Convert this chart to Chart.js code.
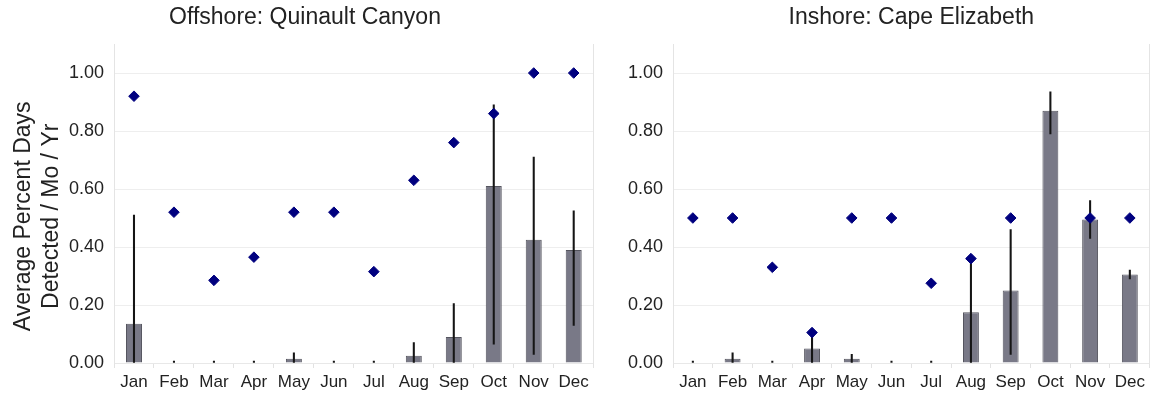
<!DOCTYPE html>
<html>
<head>
<meta charset="utf-8">
<script src="https://cdn.jsdelivr.net/npm/chart.js@4"></script>
<style>
  body { margin: 0; background: #fff; }
  .wrap { display: flex; width: 1156px; height: 407px; }
  #c1box { width: 600px; height: 407px; position: relative; }
  #c2box { width: 556px; height: 407px; position: relative; }
</style>
</head>
<body>
<div class="wrap">
  <div id="c1box"><canvas id="offshore"></canvas></div>
  <div id="c2box"><canvas id="inshore"></canvas></div>
</div>
<script>
const months = ["Jan", "Feb", "Mar", "Apr", "May", "Jun", "Jul", "Aug", "Sep", "Oct", "Nov", "Dec"];

// Offshore: Quinault Canyon
const offshoreBars = [0.135, 0, 0, 0, 0.015, 0, 0, 0.025, 0.09, 0.61, 0.425, 0.39];
const offshoreLow  = [0, 0, 0, 0, 0, 0, 0, 0, 0, 0.065, 0.03, 0.13];
const offshoreHigh = [0.51, 0.007, 0.007, 0.007, 0.035, 0.007, 0.007, 0.07, 0.205, 0.89, 0.71, 0.525];
const offshoreDots = [0.92, 0.52, 0.285, 0.365, 0.52, 0.52, 0.315, 0.63, 0.76, 0.86, 1.0, 1.0];

// Inshore: Cape Elizabeth
const inshoreBars = [0, 0.015, 0, 0.05, 0.015, 0, 0, 0.175, 0.25, 0.87, 0.495, 0.305];
const inshoreLow  = [0, 0, 0, 0, 0, 0, 0, 0, 0.03, 0.79, 0.43, 0.29];
const inshoreHigh = [0.007, 0.035, 0.007, 0.1, 0.03, 0.007, 0.007, 0.36, 0.46, 0.935, 0.56, 0.32];
const inshoreDots = [0.5, 0.5, 0.33, 0.105, 0.5, 0.5, 0.275, 0.36, 0.5, null, 0.5, 0.5];

const yTicks = [0, 0.2, 0.4, 0.6, 0.8, 1.0];

const FONT = "'Liberation Sans', Arial, sans-serif";
Chart.defaults.font.family = FONT;
Chart.defaults.color = "#222";

// o: padLeft, yWidth = width of left axis box, rWidth = width of right edge box
function makeChart(id, title, bars, low, high, dots, o) {
  return new Chart(document.getElementById(id), {
    type: "bar",
    data: {
      labels: months,
      datasets: [
        {
          type: "scatter",
          data: dots,
          pointStyle: "rectRot",
          pointRadius: 5.3,
          backgroundColor: "#00007f",
          borderColor: "#00007f",
          borderWidth: 1,
          order: 0
        },
        {
          data: low.map((l, i) => [l, high[i]]),
          backgroundColor: "#151515",
          barThickness: 1.4,
          grouped: false,
          order: 1
        },
        {
          data: bars,
          backgroundColor: "#797987",
          borderColor: "#55555f",
          borderWidth: 1,
          barPercentage: 0.4,
          categoryPercentage: 1,
          grouped: false,
          order: 2
        }
      ]
    },
    options: {
      responsive: true,
      maintainAspectRatio: false,
      animation: false,
      layout: { padding: { left: o.padLeft, right: 0, top: 0, bottom: 0 } },
      plugins: {
        legend: { display: false },
        tooltip: { enabled: false },
        title: {
          display: true,
          text: title,
          fullSize: o.titleFull,
          font: { size: 23, weight: "normal", family: FONT },
          color: "#222",
          padding: { top: 4, bottom: 12.4 }
        }
      },
      scales: {
        x: {
          type: "category",
          offset: true,
          afterFit: (s) => { s.height = 44; },
          grid: { display: true, drawOnChartArea: false, offset: true, tickLength: 5, color: "#e2e2e2" },
          border: { display: true, color: "#e8e8e8" },
          ticks: { font: { size: 17 }, color: "#222", padding: 4 }
        },
        y: {
          min: 0,
          max: 1.1,
          afterFit: (s) => { s.width = o.yWidth; },
          afterBuildTicks: (axis) => { axis.ticks = yTicks.map(v => ({ value: v })); },
          grid: { color: "#eeeeee", drawTicks: false },
          border: { display: true, color: "#e4e4e4" },
          ticks: {
            font: { size: 18 },
            color: "#222",
            padding: 10,
            callback: (v) => Number(v).toFixed(2)
          },
          title: {
            display: o.yTitle,
            // trailing spaces nudge the rotated title a bit lower, like the original
            text: ["Average Percent Days    ", "Detected / Mo / Yr    "],
            font: { size: 23 },
            color: "#222",
            padding: { top: 0, bottom: 0 }
          }
        },
        yr: {
          position: "right",
          min: 0,
          max: 1.1,
          afterFit: (s) => { s.width = o.rWidth; },
          grid: { display: false },
          border: { display: true, color: "#e4e4e4" },
          ticks: { display: false }
        }
      }
    }
  });
}

makeChart("offshore", "Offshore: Quinault Canyon", offshoreBars, offshoreLow, offshoreHigh, offshoreDots,
  { padLeft: 10, yWidth: 104, rWidth: 5, yTitle: true, titleFull: true });
makeChart("inshore", "Inshore: Cape Elizabeth", inshoreBars, inshoreLow, inshoreHigh, inshoreDots,
  { padLeft: 0, yWidth: 73, rWidth: 3, yTitle: false, titleFull: false });
</script>
</body>
</html>
